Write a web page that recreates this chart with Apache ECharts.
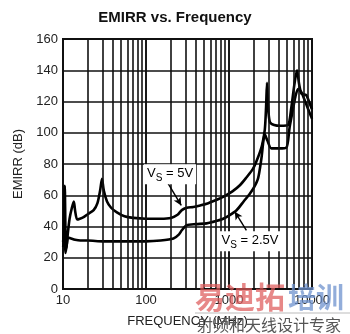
<!DOCTYPE html>
<html><head><meta charset="utf-8">
<script src="https://cdn.jsdelivr.net/npm/echarts@6/dist/echarts.min.js"></script>
<style>html,body{margin:0;padding:0;background:#fff}#c{width:350px;height:334px}</style>
</head><body><div id="c"></div>
<script>
const titleText = 'EMIRR vs. Frequency';
const xName = 'FREQUENCY (MHz)';
const yName = 'EMIRR (dB)';
const xTickLabels = [10, 100, 1000, 10000];
const yTicks = [0, 20, 40, 60, 80, 100, 120, 140, 160];

// V_S = 5V curve
const freq5V = [10.05, 10.3, 10.5, 10.75, 11.0, 11.4, 12.0, 12.8, 13.5, 14.0, 14.8, 16, 17.7, 20, 23.4, 26, 28, 29.5, 31, 33.9, 38, 44.6, 55, 70, 100, 150, 200, 240, 270, 310, 372, 450, 538, 700, 851, 1100, 1352, 1600, 1950, 2244, 2500, 2700, 2800, 2870, 2950, 3100, 3500, 4200, 5140, 5600, 6100, 6590, 7000, 7450, 8000, 8550, 9200, 9820, 10000];
const emirr5V = [30, 45, 66, 32, 26, 35, 45, 52, 56, 50, 44.5, 45, 46, 48, 50.5, 55, 63, 70.5, 63, 56, 52, 49, 46.5, 45.5, 45, 45, 45.5, 47.5, 50.5, 52, 52.5, 53.5, 54.6, 57, 59, 62.5, 66.4, 71, 77, 84.5, 92, 102, 117, 132, 118, 107, 105, 104.5, 105, 115, 130, 140, 131, 125, 124.5, 124, 120, 116, 115];

// V_S = 2.5V curve
const freq25V = [10.05, 10.4, 10.7, 11.0, 11.5, 12.3, 14, 16.2, 20, 30, 50, 100, 150, 214, 250, 270, 310, 400, 538, 700, 851, 1000, 1233, 1500, 1782, 2000, 2244, 2450, 2700, 2900, 3240, 4000, 4910, 5380, 5850, 6300, 6800, 7450, 8000, 9000, 9820, 10000];
const emirr25V = [27, 34, 23, 27, 33, 32.5, 31.5, 31, 31, 30.5, 30.5, 30.5, 31, 32.3, 35, 37.6, 40.8, 41.5, 42, 43.5, 45, 47, 50.4, 56, 61, 65, 71, 83, 99, 95, 90, 90, 90.5, 103.7, 114, 123, 128, 126, 122, 115, 110, 109];

// vertical grid lines (log minor decades)
const freqGrid = [20, 30, 40, 50, 60, 70, 80, 90, 100, 200, 300, 400, 500, 600, 700, 800, 900, 1000, 2000, 3000, 4000, 5000, 6000, 7000, 8000, 9000];

// annotations (data coordinates)
const label5V = {text: '{v|V}{s|S}{v| = 5V}', at: [195, 73.5], arrowFrom: [185, 67.5], arrowTo: [266, 53.5]};
const label25V = {text: '{v|V}{s|S}{v| = 2.5V}', at: [1790, 30.5], arrowFrom: [1620, 37.5], arrowTo: [1175, 49.5]};

const FONT = '"Liberation Sans", Arial, sans-serif';
const chart = echarts.init(document.getElementById('c'), null, {renderer: 'canvas'});
const lineCol = '#111';

chart.setOption({
  animation: false,
  backgroundColor: '#fff',
  title: {text: titleText, left: 'center', top: 5, textStyle: {fontFamily: FONT, fontSize: 15, fontWeight: 'bold', color: '#111'}},
  grid: {left: 63, top: 39, width: 249, height: 250, show: true, borderColor: lineCol, borderWidth: 2, backgroundColor: 'transparent'},
  xAxis: {
    type: 'log', logBase: 10, min: xTickLabels[0], max: xTickLabels[xTickLabels.length - 1],
    name: xName, nameLocation: 'middle', nameGap: 26,
    nameTextStyle: {fontFamily: FONT, fontSize: 13, color: '#222'},
    axisLine: {show: false}, axisTick: {show: false},
    axisLabel: {fontFamily: FONT, fontSize: 13, color: '#222', margin: 5, formatter: v => String(v)},
    splitLine: {show: true, lineStyle: {color: lineCol, width: 1.6}}
  },
  yAxis: {
    type: 'value', min: yTicks[0], max: yTicks[yTicks.length - 1], interval: yTicks[1] - yTicks[0],
    name: yName, nameLocation: 'middle', nameGap: 38, nameRotate: 90,
    nameTextStyle: {fontFamily: FONT, fontSize: 13, color: '#222'},
    axisLine: {show: false}, axisTick: {show: false},
    axisLabel: {fontFamily: FONT, fontSize: 13, color: '#222', margin: 5},
    splitLine: {show: true, lineStyle: {color: lineCol, width: 1.6}}
  },
  series: [
    {
      type: 'line', data: [], silent: true, z: 1,
      markLine: {silent: true, symbol: ['none', 'none'], label: {show: false},
        lineStyle: {color: lineCol, width: 1.6, type: 'solid'},
        data: freqGrid.map(v => ({xAxis: v}))}
    },
    {
      name: '5V', type: 'line', showSymbol: false, smooth: 0.25, z: 3,
      lineStyle: {color: '#000', width: 2.6}, itemStyle: {color: '#000'},
      data: freq5V.map((f, i) => [f, emirr5V[i]]),
      markLine: {silent: true, symbol: ['none', 'arrow'], symbolSize: [6, 8], label: {show: false},
        lineStyle: {color: '#000', width: 1.4, type: 'solid'},
        data: [[{coord: label5V.arrowFrom}, {coord: label5V.arrowTo}]]}
    },
    {
      name: '2.5V', type: 'line', showSymbol: false, smooth: 0.25, z: 3,
      lineStyle: {color: '#000', width: 2.6}, itemStyle: {color: '#000'},
      data: freq25V.map((f, i) => [f, emirr25V[i]]),
      markLine: {silent: true, symbol: ['none', 'arrow'], symbolSize: [6, 8], label: {show: false},
        lineStyle: {color: '#000', width: 1.4, type: 'solid'},
        data: [[{coord: label25V.arrowFrom}, {coord: label25V.arrowTo}]]}
    }
  ]
});

function px(p) { return chart.convertToPixel({xAxisIndex: 0, yAxisIndex: 0}, p); }
const rich = {
  v: {fontFamily: FONT, fontSize: 13, color: '#111', lineHeight: 14, verticalAlign: 'top'},
  s: {fontFamily: FONT, fontSize: 10, color: '#111', lineHeight: 12, padding: [6, 0, 0, 0], verticalAlign: 'top'}
};
function annot(l) {
  const p = px(l.at);
  return {type: 'text', x: p[0], y: p[1], z: 50,
    style: {text: l.text, rich: rich, align: 'center', verticalAlign: 'middle',
      backgroundColor: '#fff', padding: [3, 3, 3, 3]}};
}
chart.setOption({graphic: [
  annot(label5V), annot(label25V),
  {type: 'text', x: 195, y: 297, z: 60, style: {text: '易迪拓', font: 'bold 30px "Noto Sans CJK SC"', fill: 'rgba(222,90,90,0.72)', verticalAlign: 'middle'}},
  {type: 'text', x: 288, y: 297, z: 60, style: {text: '培训', font: 'bold 28px "Noto Sans CJK SC"', fill: 'rgba(110,145,205,0.75)', verticalAlign: 'middle'}},
  {type: 'line', z: 60, shape: {x1: 195, y1: 313, x2: 350, y2: 313}, style: {stroke: '#bbb', lineWidth: 1}},
  {type: 'text', x: 197, y: 325, z: 60, style: {text: '射频和天线设计专家', font: '16px "Noto Sans CJK SC"', fill: '#555', verticalAlign: 'middle'}}
]});
</script></body></html>
